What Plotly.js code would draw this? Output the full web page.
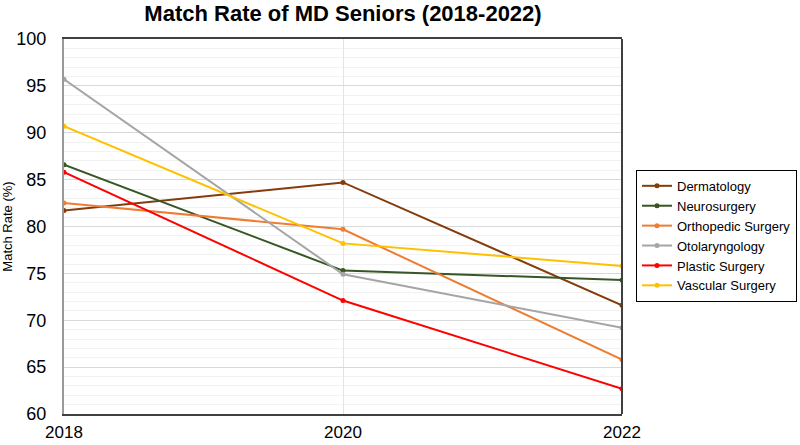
<!DOCTYPE html>
<html>
<head>
<meta charset="utf-8">
<script src="https://cdn.plot.ly/plotly-3.0.1.min.js"></script>
<style>
  html, body { margin: 0; padding: 0; background: #fff; }
  #chart { width: 800px; height: 445px; }
</style>
</head>
<body>
<div id="chart"></div>
<script>
// Years on the x axis
const years = [2018, 2020, 2022];

// Match rate (%) per specialty
const dermatology = [81.7, 84.7, 71.6];
const neurosurgery = [86.6, 75.3, 74.3];
const orthopedic = [82.5, 79.7, 65.8];
const otolaryngology = [95.7, 74.9, 69.2];
const plastic = [85.8, 72.1, 62.7];
const vascular = [90.7, 78.2, 75.8];

const names = ['Dermatology', 'Neurosurgery', 'Orthopedic Surgery', 'Otolaryngology', 'Plastic Surgery', 'Vascular Surgery'];
const series = [dermatology, neurosurgery, orthopedic, otolaryngology, plastic, vascular];
const colors = ['#843C0C', '#375623', '#ED7D31', '#A5A5A5', '#FF0000', '#FFC000'];

const font = 'Liberation Sans, Arial, sans-serif';

// One line trace per specialty
const data = series.map((vals, i) => ({
    x: years,
    y: vals,
    name: names[i],
    mode: 'lines+markers',
    line: { color: colors[i], width: 2 },
    marker: { color: colors[i], size: 5 },
}));

const layout = {
    width: 800,
    height: 445,
    margin: { l: 64, r: 178, t: 39, b: 31, autoexpand: false },
    paper_bgcolor: '#fff',
    plot_bgcolor: '#fff',
    font: { family: font, color: '#000' },
    title: {
        text: '<b>Match Rate of MD Seniors (2018-2022)</b>',
        font: { family: font, size: 22, color: '#000' },
        x: 0.5,
        xref: 'paper',
        y: 0.97,
        yref: 'container',
        yanchor: 'middle',
    },
    xaxis: {
        range: [2018, 2022],
        tickvals: years,
        ticktext: years.map(String),
        tickfont: { size: 17 },
        ticks: '',
        ticklabelstandoff: 2,
        showgrid: true,
        gridcolor: '#e3e3e3',
        showline: true,
        mirror: true,
        linecolor: '#404040',
        linewidth: 2,
        zeroline: false,
    },
    yaxis: {
        range: [60, 100],
        dtick: 5,
        tickfont: { size: 18 },
        ticks: '',
        ticklabelstandoff: 12,
        showgrid: true,
        gridcolor: '#d9d9d9',
        minor: { dtick: 1, showgrid: true, gridcolor: '#f2f2f2' },
        showline: true,
        linecolor: '#999',
        linewidth: 2,
        zeroline: false,
        title: { text: 'Match Rate (%)', font: { size: 13 }, standoff: 4 },
    },
    shapes: [
        // right edge of the plot frame
        { type: 'line', xref: 'paper', yref: 'paper', x0: 1, x1: 1, y0: 0, y1: 1,
          line: { color: '#404040', width: 2 } },
    ],
    legend: {
        xref: 'container',
        x: 0.795,
        xanchor: 'left',
        y: 0.651,
        yanchor: 'top',
        bordercolor: '#000',
        borderwidth: 1,
        font: { size: 13, color: '#000' },
        tracegroupgap: 0,
        itemwidth: 30,
    },
    showlegend: true,
};

Plotly.newPlot('chart', data, layout, { displayModeBar: false, staticPlot: true });
</script>
</body>
</html>
